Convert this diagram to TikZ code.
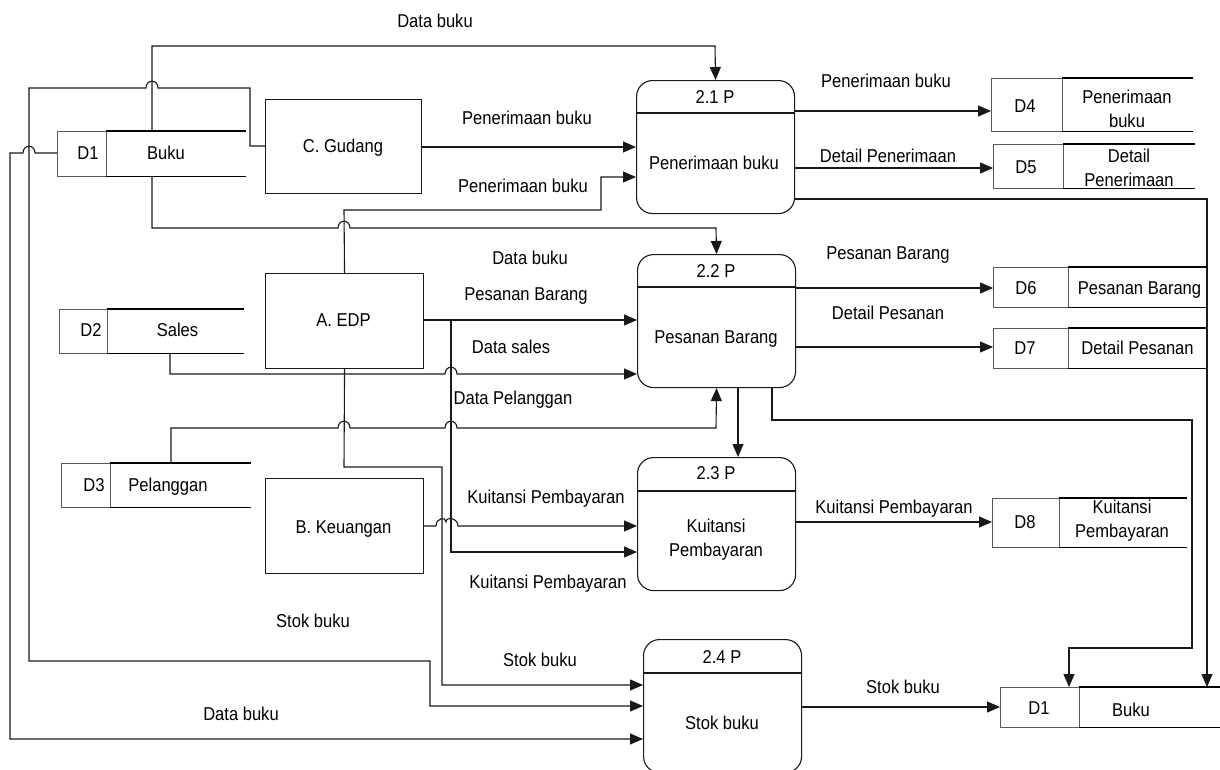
\documentclass[tikz,border=0pt]{standalone}
\usepackage{fontspec}
\setmainfont{Liberation Sans}[FakeStretch=0.89]
\usetikzlibrary{arrows.meta}
\begin{document}
\begin{tikzpicture}[x=1pt,y=-1pt,
  font=\fontsize{18.6pt}{24pt}\selectfont,
  ln/.style={line width=1.1pt, draw=black!90},
  flow/.style={ln, -{Triangle[length=13pt,width=11pt]}},
  proc/.style={draw=black!90, line width=1.1pt, rounded corners=16pt, minimum width=158pt, minimum height=133pt, anchor=north west, inner sep=0pt},
  ext/.style={draw=black!90, line width=1.1pt, anchor=north west, inner sep=0pt},
  sid/.style={draw=black!65, line width=1pt, anchor=north west, inner sep=0pt},
  sname/.style={anchor=north west, inner sep=0pt},
  sline/.style={line width=1.7pt, draw=black},
  lbl/.style={inner sep=0pt, text height=13.3pt, text depth=0pt},
  mlbl/.style={inner sep=0pt, align=center},
]
\useasboundingbox (0,0) rectangle (1220,769);
\fill[white] (0,0) rectangle (1220,769);

% ---------- external entities ----------
\node[ext, minimum width=156pt, minimum height=94pt] (gudang) at (265,99) {};
\node[lbl] (tgudang) at (343,146) {C. Gudang};
\node[ext, minimum width=158pt, minimum height=95pt] (edp) at (265,273) {};
\node[lbl] (tedp) at (343.5,320) {A. EDP};
\node[ext, minimum width=158pt, minimum height=95pt] (keu) at (265,478) {};
\node[lbl] (tkeu) at (343.5,527) {B. Keuangan};

% ---------- data stores ----------
% D1 Buku (left)
\node[sid, minimum width=49pt, minimum height=45pt] (d1id) at (57,131) {};
\node[sname, minimum width=140pt, minimum height=45pt] (d1n) at (106,131) {};
\draw[sline] (d1n.north west) -- (d1n.north east) (d1n.south west) -- (d1n.south east);
\node[lbl] (td1) at (88,153) {D1};
\node[lbl] (td1n) at (166,153) {Buku};
% D2 Sales
\node[sid, minimum width=48pt, minimum height=44pt] (d2id) at (59,309) {};
\node[sname, minimum width=137pt, minimum height=44pt] (d2n) at (107,309) {};
\draw[sline] (d2n.north west) -- (d2n.north east) (d2n.south west) -- (d2n.south east);
\node[lbl] (td2) at (91,330) {D2};
\node[lbl] (td2n) at (177.5,330) {Sales};
% D3 Pelanggan
\node[sid, minimum width=49pt, minimum height=44pt] (d3id) at (61,463) {};
\node[sname, minimum width=141pt, minimum height=44pt] (d3n) at (110,463) {};
\draw[sline] (d3n.north west) -- (d3n.north east) (d3n.south west) -- (d3n.south east);
\node[lbl] (td3) at (94,485) {D3};
\node[lbl] (td3n) at (168,485) {Pelanggan};
% D4 Penerimaan buku
\node[sid, minimum width=71pt, minimum height=53pt] (d4id) at (991,78) {};
\node[sname, minimum width=131pt, minimum height=53pt] (d4n) at (1062,78) {};
\draw[sline] (d4n.north west) -- (d4n.north east) (d4n.south west) -- (d4n.south east);
\node[lbl] (td4) at (1025,106) {D4};
\node[mlbl] (td4n) at (1127,109) {Penerimaan\\buku};
% D5 Detail Penerimaan
\node[sid, minimum width=70pt, minimum height=44pt] (d5id) at (993,144) {};
\node[sname, minimum width=132pt, minimum height=44pt] (d5n) at (1063,144) {};
\draw[sline] (d5n.north west) -- (d5n.north east) (d5n.south west) -- (d5n.south east);
\node[lbl] (td5) at (1026,167) {D5};
\node[mlbl] (td5n) at (1129,167.5) {Detail\\Penerimaan};
% D6 Pesanan Barang
\node[sid, minimum width=75pt, minimum height=40pt] (d6id) at (993,267) {};
\node[sname, minimum width=139pt, minimum height=40pt] (d6n) at (1068,267) {};
\draw[sline] (d6n.north west) -- (d6n.north east) (d6n.south west) -- (d6n.south east);
\node[lbl] (td6) at (1026,288) {D6};
\node[lbl] (td6n) at (1139.5,288) {Pesanan Barang};
% D7 Detail Pesanan
\node[sid, minimum width=75pt, minimum height=40pt] (d7id) at (993,328) {};
\node[sname, minimum width=138pt, minimum height=40pt] (d7n) at (1068,328) {};
\draw[sline] (d7n.north west) -- (d7n.north east) (d7n.south west) -- (d7n.south east);
\node[lbl] (td7) at (1025,348) {D7};
\node[lbl] (td7n) at (1137.5,348) {Detail Pesanan};
% D8 Kuitansi Pembayaran
\node[sid, minimum width=67pt, minimum height=49pt] (d8id) at (992,498) {};
\node[sname, minimum width=128pt, minimum height=49pt] (d8n) at (1059,498) {};
\draw[sline] (d8n.north west) -- (d8n.north east) (d8n.south west) -- (d8n.south east);
\node[lbl] (td8) at (1025,522) {D8};
\node[mlbl] (td8n) at (1122,520.5) {Kuitansi\\Pembayaran};
% D1 Buku (right)
\node[sid, minimum width=79pt, minimum height=40pt] (d1bid) at (1000,687) {};
\node[sname, minimum width=141pt, minimum height=40pt] (d1bn) at (1079,687) {};
\draw[sline] (d1bn.north west) -- (d1bn.north east) (d1bn.south west) -- (d1bn.south east);
\node[lbl] (td1b) at (1039,708) {D1};
\node[lbl] (td1bn) at (1131,710) {Buku};

% ---------- processes ----------
\node[proc] (p21) at (636,80) {};
\draw[ln] (p21.west |- 0,113) -- (p21.east |- 0,113);
\node[lbl] (tp21a) at (715,97) {2.1 P};
\node[lbl] (tp21b) at (714,163) {Penerimaan buku};
\node[proc] (p22) at (637,254) {};
\draw[ln] (p22.west |- 0,287) -- (p22.east |- 0,287);
\node[lbl] (tp22a) at (716,271) {2.2 P};
\node[lbl] (tp22b) at (716,337) {Pesanan Barang};
\node[proc] (p23) at (637,457) {};
\draw[ln] (p23.west |- 0,491) -- (p23.east |- 0,491);
\node[lbl] (tp23a) at (716,473) {2.3 P};
\node[mlbl] (tp23b) at (716,540) {Kuitansi\\Pembayaran};
\node[proc] (p24) at (643,639) {};
\draw[ln] (p24.west |- 0,673) -- (p24.east |- 0,673);
\node[lbl] (tp24a) at (722,657) {2.4 P};
\node[lbl] (tp24b) at (722,723) {Stok buku};

% ---------- data flows ----------
% Data buku: D1 -> 2.1 P (over the top)
\draw[flow] (152,0 |- d1n.north) -- (152,46) -- (715,46) -- (p21.north);
% Stok buku: C. Gudang -> 2.4 P (round the left side)
\draw[flow] (gudang.west |- 0,146) -- (250,146) -- (250,88) -- (158,88)
  .. controls (158,79) and (146,79) .. (146,88) -- (29,88) -- (29,661)
  -- (430,661) -- (430,706) -- (p24.west |- 0,706);
% Data buku: D1 -> 2.4 P (outermost)
\draw[flow] (d1id.west |- 0,153) -- (35,153)
  .. controls (35,144) and (23,144) .. (23,153) -- (10,153) -- (10,739)
  -- (p24.west |- 0,739);
% Penerimaan buku: C. Gudang -> 2.1 P
\draw[flow] (gudang.east |- 0,147) -- (p21.west |- 0,147);
% Penerimaan buku: A. EDP -> 2.1 P
\draw[flow] (edp.north) -- (344,210) -- (601,210) -- (601,177) -- (p21.west |- 0,177);
% Data buku: D1 -> 2.2 P
\draw[flow] (152,0 |- d1n.south) -- (152,228) -- (338,228)
  .. controls (338,219) and (350,219) .. (350,228) -- (716,228) -- (p22.north);
% Pesanan Barang: A. EDP -> 2.2 P
\draw[flow] (edp.east |- 0,320) -- (p22.west |- 0,320);
% Kuitansi Pembayaran: A. EDP -> 2.3 P (branch)
\coordinate (edpbranch) at (451,320);
\draw[flow] (edpbranch) -- (451,552) -- (p23.west |- 0,552);
% Data sales: D2 -> 2.2 P
\draw[flow] (170,0 |- d2n.south) -- (170,374) -- (445,374)
  .. controls (445,365) and (457,365) .. (457,374) -- (p22.west |- 0,374);
% Data Pelanggan: D3 -> 2.2 P
\draw[flow] (171,0 |- d3n.north) -- (171,428) -- (338,428)
  .. controls (338,419) and (350,419) .. (350,428) -- (445,428)
  .. controls (445,419) and (457,419) .. (457,428) -- (716,428) -- (p22.south);
% Stok buku: A. EDP -> 2.4 P
\draw[flow] (edp.south) -- (344,467) -- (442,467) -- (442,685) -- (p24.west |- 0,685);
% Kuitansi Pembayaran: B. Keuangan -> 2.3 P
\draw[flow] (keu.east |- 0,526) -- (436,526)
  .. controls (436,518) and (446,516) .. (446,522)
  .. controls (446,516) and (458,518) .. (458,526) -- (p23.west |- 0,526);
% Outputs of 2.1 P
\draw[flow] (p21.east |- 0,111) -- (d4id.west |- 0,111);
\draw[flow] (p21.east |- 0,168) -- (d5id.west |- 0,168);
\draw[flow] (p21.east |- 0,199) -- (1207,199) -- (1207,0 |- d1bn.north);
% Outputs of 2.2 P
\draw[flow] (p22.east |- 0,288) -- (d6id.west |- 0,288);
\draw[flow] (p22.east |- 0,347) -- (d7id.west |- 0,347);
\draw[flow] (772,0 |- p22.south) -- (772,420) -- (1192,420) -- (1192,648)
  -- (1069,648) -- (1069,0 |- d1bid.north);
\draw[flow] (738,0 |- p22.south) -- (738,0 |- p23.north);
% Output of 2.3 P
\draw[flow] (p23.east |- 0,522) -- (d8id.west |- 0,522);
% Output of 2.4 P
\draw[flow] (p24.east |- 0,707) -- (d1bid.west |- 0,707);

% ---------- flow labels ----------
\node[lbl] (l1) at (435,21) {Data buku};
\node[lbl] (l2) at (527,118) {Penerimaan buku};
\node[lbl] (l3) at (523,186) {Penerimaan buku};
\node[lbl] (l4) at (530,258) {Data buku};
\node[lbl] (l5) at (526,294) {Pesanan Barang};
\node[lbl] (l6) at (511,347) {Data sales};
\node[lbl] (l7) at (513,398) {Data Pelanggan};
\node[lbl] (l8) at (546,497) {Kuitansi Pembayaran};
\node[lbl] (l9) at (548,582) {Kuitansi Pembayaran};
\node[lbl] (l10) at (313,621) {Stok buku};
\node[lbl] (l11) at (241,714) {Data buku};
\node[lbl] (l12) at (540,660) {Stok buku};
\node[lbl] (l13) at (886,81) {Penerimaan buku};
\node[lbl] (l14) at (888,156) {Detail Penerimaan};
\node[lbl] (l15) at (888,253) {Pesanan Barang};
\node[lbl] (l16) at (888,313) {Detail Pesanan};
\node[lbl] (l17) at (894,507) {Kuitansi Pembayaran};
\node[lbl] (l18) at (903,687) {Stok buku};
\end{tikzpicture}
\end{document}
